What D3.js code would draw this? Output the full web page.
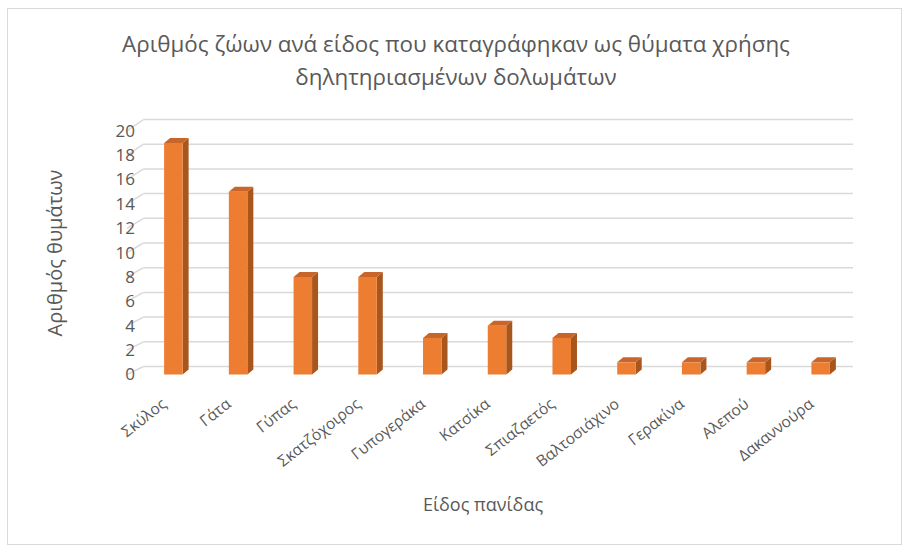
<!DOCTYPE html>
<html lang="el">
<head>
<meta charset="utf-8">
<script src="https://d3js.org/d3.v7.min.js"></script>
<style>
  body { margin: 0; background: #fff; }
  svg { font-family: "Open Sans", sans-serif; }
</style>
</head>
<body>
<script>
var width = 916, height = 554;

// data
var species = ["Σκύλος", "Γάτα", "Γύπας", "Σκατζόχοιρος", "Γυπογεράκα", "Κατσίκα",
               "Σπιαζαετός", "Βαλτοσιάχινο", "Γερακίνα", "Αλεπού", "Δακαννούρα"];
var victims = [19, 15, 8, 8, 3, 4, 3, 1, 1, 1, 1];
var yTicks = [0, 2, 4, 6, 8, 10, 12, 14, 16, 18, 20];
var titleLines = ["Αριθμός ζώων ανά είδος που καταγράφηκαν ως θύματα χρήσης",
                  "δηλητηριασμένων δολωμάτων"];

var svg = d3.select("body").append("svg")
  .attr("width", width)
  .attr("height", height);

// chart frame
svg.append("rect")
  .attr("x", 7.5).attr("y", 8.5)
  .attr("width", 894).attr("height", 536)
  .attr("fill", "#fff")
  .attr("stroke", "#d9d9d9");

var x = d3.scaleBand().domain(species).range([141, 853]);
// front plane (labels, bar fronts) and back wall (gridlines)
var y = d3.scaleLinear().domain([0, 20]).range([374.5, 130.8]);
var yBack = d3.scaleLinear().domain([0, 20]).range([366.5, 119.5]);

var barDx = 6, barDy = -5;
var barW = 18.5;

// gridlines on back wall with the side-wall stubs
var grid = svg.append("g")
  .attr("stroke", "#d9d9d9").attr("stroke-width", 1.5);
yTicks.forEach(function(t) {
  grid.append("line")
    .attr("x1", 127).attr("y1", y(t))
    .attr("x2", 143.5).attr("y2", yBack(t));
  grid.append("line")
    .attr("x1", 143.5).attr("y1", yBack(t))
    .attr("x2", 853).attr("y2", yBack(t));
});

// y tick labels
svg.append("g").selectAll("text")
  .data(yTicks).enter().append("text")
  .attr("x", 135)
  .attr("y", function(d) { return y(d); })
  .attr("dy", "0.35em")
  .attr("text-anchor", "end")
  .attr("fill", "#595959")
  .attr("font-size", 17)
  .text(function(d) { return d; });

// 3D bars
var bars = svg.append("g").selectAll("g")
  .data(species).enter().append("g");

bars.each(function(d, i) {
  var g = d3.select(this);
  var cx = x(d) + x.bandwidth() / 2;
  var x0 = cx - barW / 2, x1 = cx + barW / 2;
  var yt = y(victims[i]), yb = y(0);
  // side
  g.append("path")
    .attr("d", "M" + x1 + "," + yt + "L" + (x1 + barDx) + "," + (yt + barDy) +
               "L" + (x1 + barDx) + "," + (yb + barDy) + "L" + x1 + "," + yb + "Z")
    .attr("fill", "#a9561d");
  // top
  g.append("path")
    .attr("d", "M" + x0 + "," + yt + "L" + (x0 + barDx) + "," + (yt + barDy) +
               "L" + (x1 + barDx) + "," + (yt + barDy) + "L" + x1 + "," + yt + "Z")
    .attr("fill", "#c8652a");
  // front
  g.append("rect")
    .attr("x", x0).attr("y", yt)
    .attr("width", barW).attr("height", yb - yt)
    .attr("fill", "#ed7d31");
});

// x labels rotated
svg.append("g").selectAll("text")
  .data(species).enter().append("text")
  .attr("transform", function(d) {
    var cx = x(d) + x.bandwidth() / 2;
    return "translate(" + (cx - 6) + ",406) rotate(-38)";
  })
  .attr("text-anchor", "end")
  .attr("fill", "#595959")
  .attr("font-size", 15.5)
  .text(function(d) { return d; });

// title
svg.append("g").selectAll("text")
  .data(titleLines).enter().append("text")
  .attr("x", 456)
  .attr("y", function(d, i) { return 52 + i * 33; })
  .attr("text-anchor", "middle")
  .attr("fill", "#595959")
  .attr("font-size", 22.4)
  .text(function(d) { return d; });

// axis titles
svg.append("text")
  .attr("transform", "translate(62,253) rotate(-90)")
  .attr("text-anchor", "middle")
  .attr("fill", "#595959")
  .attr("font-size", 20)
  .text("Αριθμός θυμάτων");

svg.append("text")
  .attr("x", 483).attr("y", 511)
  .attr("text-anchor", "middle")
  .attr("fill", "#595959")
  .attr("font-size", 18)
  .text("Είδος πανίδας");
</script>
</body>
</html>
